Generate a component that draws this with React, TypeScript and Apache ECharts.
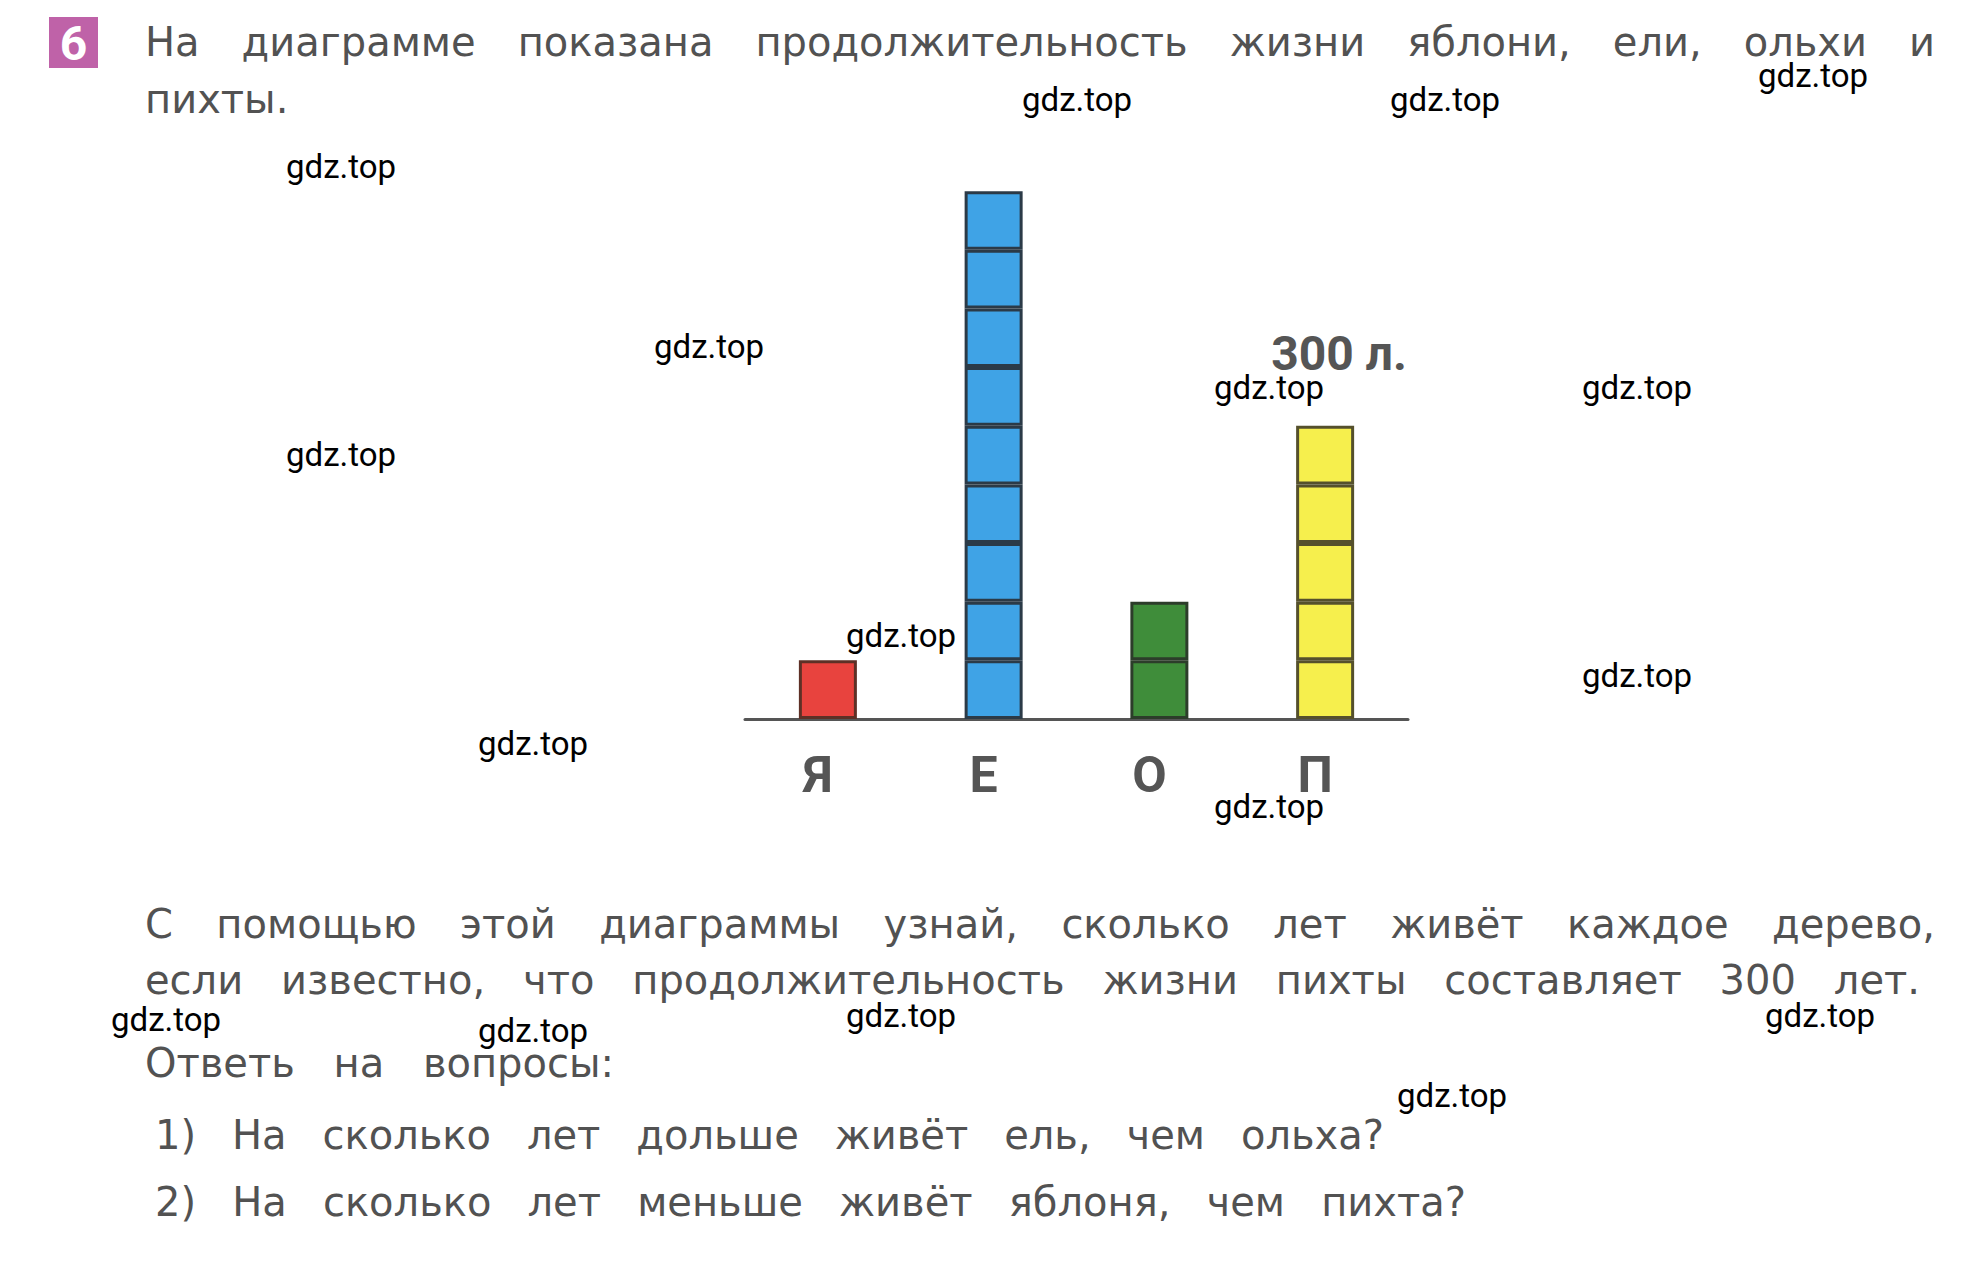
import React, { useEffect, useRef } from "react";
import * as echarts from "echarts";

// ---------- data ----------
const categories = ["Я", "Е", "О", "П"];
const lifespanYears = [60, 540, 120, 300];
const unitYears = 60; // one square of the diagram
const labelledCategory = "П";
const valueSuffix = " л.";
const barColors = ["#e8433e", "#3fa3e6", "#3f8d3a", "#f6ef4d"];
const barBorders = ["#5e3026", "#2b3a47", "#2c3d2a", "#55502c"];

const taskNumber = "6";
const headingLines = [
  "На диаграмме показана продолжительность жизни яблони, ели, ольхи и",
  "пихты.",
];
const bodyLines = [
  "С помощью этой диаграммы узнай, сколько лет живёт каждое дерево,",
  "если известно, что продолжительность жизни пихты составляет 300 лет.",
  "Ответь на вопросы:",
  "1) На сколько лет дольше живёт ель, чем ольха?",
  "2) На сколько лет меньше живёт яблоня, чем пихта?",
];
const watermarkText = "gdz.top";

// ---------- layout ----------
const W = 1982;
const H = 1270;
const TEXT_FS = 40;
const TEXT_FONT = "DejaVu Sans";
const TEXT_CENTRAL = 0.346; // central-baseline offset of the font, in em
const TEXT_COLOR = "#525252";
// [xStart, xEnd (justify to) or null, baseline]
const headingLayout: [number, number | null, number][] = [
  [145, 1935, 56],
  [145, null, 113],
];
const bodyLayout: [number, number | null, number][] = [
  [145, 1935, 938],
  [145, 1920, 994],
  [145, 614, 1077],
  [155, 1384, 1149],
  [155, 1466, 1216],
];
const watermarkPos: [number, number][] = [
  [1077, 99], [1445, 99], [1813, 75], [341, 166], [709, 346], [1269, 387],
  [1637, 387], [341, 454], [901, 635], [1637, 675], [533, 743], [1269, 806],
  [166, 1019], [533, 1030], [901, 1015], [1820, 1015], [1452, 1095],
];

function buildTextLines(lines: string[], layout: [number, number | null, number][]) {
  const ctx = document.createElement("canvas").getContext("2d")!;
  ctx.font = `400 ${TEXT_FS}px "${TEXT_FONT}"`;
  const spaceW = ctx.measureText(" ").width;
  const els: any[] = [];
  lines.forEach((line, li) => {
    const [x0, x1, base] = layout[li];
    const words = line.split(" ");
    const widths = words.map((w) => ctx.measureText(w).width);
    const sum = widths.reduce((a, b) => a + b, 0);
    const gap = x1 != null && words.length > 1 ? (x1 - x0 - sum) / (words.length - 1) : spaceW * 2;
    let x = x0;
    words.forEach((w, wi) => {
      els.push({
        type: "text",
        x,
        y: base - TEXT_CENTRAL * TEXT_FS,
        silent: true,
        style: {
          text: w,
          fontSize: TEXT_FS,
          fontFamily: TEXT_FONT,
          fill: TEXT_COLOR,
          align: "left",
          verticalAlign: "middle",
        },
      });
      x += widths[wi] + gap;
    });
  });
  return els;
}

export default function App() {
  const ref = useRef<HTMLDivElement>(null);
  useEffect(() => {
    if (!ref.current) return;
    const chart = echarts.init(ref.current, undefined, { renderer: "svg" });

    const units = lifespanYears.map((v) => Math.round(v / unitYears));
    const maxUnits = Math.max(...units);
    const li = categories.indexOf(labelledCategory);
    const series: any[] = [];
    for (let k = 0; k < maxUnits; k++) {
      series.push({
        type: "bar",
        stack: "life",
        barWidth: 58,
        silent: true,
        data: lifespanYears.map((v, i) => {
          if (k >= units[i]) return "-";
          const item: any = {
            value: unitYears,
            itemStyle: { color: barColors[i], borderColor: barBorders[i], borderWidth: 3 },
          };
          if (i === li && k === units[i] - 1) {
            item.label = {
              show: true,
              position: "top",
              distance: 48,
              offset: [14, 0],
              formatter: `${lifespanYears[i]}${valueSuffix}`,
              fontFamily: "Roboto",
              fontWeight: "bold",
              fontSize: 48,
              color: "#555555",
            };
          }
          return item;
        }),
      });
    }

    const graphic: any[] = [
      {
        type: "rect",
        shape: { x: 49, y: 17, width: 49, height: 51 },
        style: { fill: "#bf62a8" },
        silent: true,
      },
      {
        type: "text",
        x: 73.5,
        y: 43,
        silent: true,
        style: {
          text: taskNumber,
          fontSize: 48,
          fontWeight: "bold",
          fontFamily: "Roboto",
          fill: "#ffffff",
          align: "center",
          verticalAlign: "middle",
        },
      },
      ...buildTextLines(headingLines, headingLayout),
      ...buildTextLines(bodyLines, bodyLayout),
      ...watermarkPos.map(([x, y]) => ({
        type: "text",
        x,
        y,
        silent: true,
        z: 100,
        style: {
          text: watermarkText,
          fontSize: 33,
          fontFamily: "Roboto",
          fill: "#000000",
          align: "center",
          verticalAlign: "middle",
        },
      })),
    ];

    chart.setOption({
      animation: false,
      backgroundColor: "#ffffff",
      grid: { left: 745, width: 663, top: 132.5, bottom: H - 719, containLabel: false },
      xAxis: {
        type: "category",
        data: categories,
        axisTick: { show: false },
        axisLine: { lineStyle: { color: "#555555", width: 3 } },
        axisLabel: {
          margin: 31,
          fontFamily: "Roboto",
          fontWeight: "bold",
          fontSize: 50,
          color: "#555555",
          padding: [0, 20, 0, 0],
        },
      },
      yAxis: { type: "value", min: 0, max: 600, show: false, splitLine: { show: false } },
      series,
      graphic,
    });
    return () => chart.dispose();
  }, []);
  return (
    <div
      ref={ref}
      style={{ position: "fixed", left: 0, top: 0, width: W, height: H, background: "#fff" }}
    />
  );
}
